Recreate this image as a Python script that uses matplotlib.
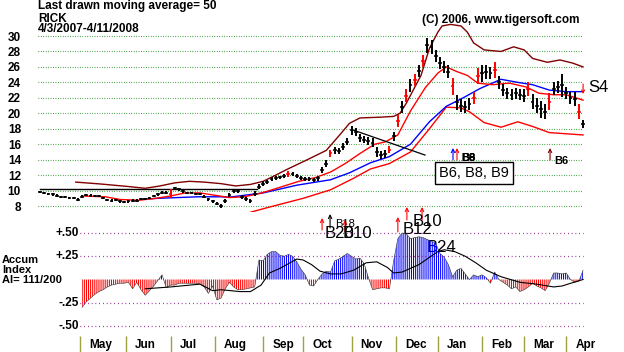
import matplotlib
matplotlib.use('Agg')
import matplotlib.pyplot as plt
from matplotlib.transforms import blended_transform_factory
import numpy as np

plt.rcParams['font.family'] = ['Liberation Sans', 'DejaVu Sans']
plt.rcParams['hatch.linewidth'] = 0.75

W, H = 624, 352

# price bars: one bar every 2 trading days, day 0 = 4/3/2007
days = list(range(0, 259, 2))
close = [9.8, 9.7, 9.6, 9.5, 9.35, 9.2, 9.2, 9.05, 9.0, 8.8,
         9.2, 9.4, 9.35, 9.3, 9.3, 9.0, 8.8, 8.7, 8.8, 8.6,
         8.55, 8.6, 8.7, 8.7, 8.9, 8.95, 9.0, 9.3, 9.55, 9.7,
         9.75, 9.6, 10.3, 10.2, 9.9, 9.7, 9.7, 9.6, 9.6, 9.2,
         8.9, 8.6, 8.3, 8.0, 8.6, 9.4, 10.0, 9.9, 9.2, 8.9,
         8.7, 9.6, 10.5, 10.9, 11.1, 11.5, 11.6, 11.7, 11.9, 12.2,
         12.1, 11.9, 11.6, 11.5, 11.5, 11.4, 11.6, 12.7, 13.5, 14.8,
         15.2, 15.1, 15.7, 16.3, 17.8, 17.6, 16.8, 16.6, 16.4, 16.2,
         15.0, 14.6, 14.7, 15.3, 17.0, 19.0, 20.8, 22.3, 23.6, 24.3,
         25.5, 26.8, 28.8, 28.6, 27.4, 26.5, 26.0, 25.4, 23.5, 21.4,
         21.0, 20.8, 21.2, 22.0, 24.8, 25.2, 25.3, 25.2, 25.6, 24.0,
         23.0, 22.6, 22.4, 22.6, 22.4, 22.3, 23.2, 21.5, 21.0, 20.5,
         20.2, 21.5, 23.2, 23.4, 23.6, 22.6, 22.0, 21.8, 20.2, 18.6]
bar_rng = [0.3, 0.3, 0.3, 0.3, 0.3, 0.3, 0.3, 0.3, 0.3, 0.4,
           0.4, 0.3, 0.3, 0.3, 0.3, 0.3, 0.3, 0.3, 0.3, 0.3,
           0.3, 0.3, 0.3, 0.3, 0.3, 0.3, 0.3, 0.3, 0.4, 0.4,
           0.3, 1.2, 0.4, 0.4, 0.3, 0.3, 0.3, 0.3, 0.3, 0.4,
           0.4, 0.4, 0.4, 0.5, 0.5, 0.5, 0.5, 0.4, 0.5, 0.5,
           0.5, 0.6, 0.6, 0.6, 0.5, 0.5, 0.5, 0.5, 0.5, 0.8,
           0.5, 0.5, 0.5, 0.5, 0.5, 0.5, 0.7, 0.8, 0.9, 1.0,
           0.9, 0.8, 0.8, 0.9, 1.1, 1.0, 1.0, 1.0, 1.0, 1.2,
           1.2, 1.0, 1.0, 1.0, 1.2, 1.5, 1.5, 1.6, 1.6, 1.6,
           1.6, 1.6, 2.0, 1.8, 1.6, 1.6, 1.6, 1.6, 2.2, 2.0,
           1.6, 1.6, 1.6, 1.6, 2.0, 2.2, 1.8, 1.6, 2.0, 1.6,
           1.6, 1.4, 1.4, 1.4, 1.4, 1.6, 1.8, 2.0, 2.0, 2.2,
           2.0, 2.2, 1.6, 1.6, 3.0, 1.6, 1.6, 1.8, 2.0, 1.0]
red_bars = [31, 59, 69, 83, 85, 87, 89, 91, 98, 103, 104, 108, 116, 121, 128]

# moving averages and bands (day, value)
ma21_day = [20, 31, 38, 47, 55, 62, 69, 76, 83, 90, 97, 104, 109, 116, 123, 131,
            138, 145, 152, 159, 164, 170, 176, 183, 189, 193, 198, 203, 208, 215,
            223, 231, 237, 244, 250, 258]
ma21_val = [9.3, 9.2, 8.85, 8.75, 9.0, 9.3, 9.7, 9.7, 9.4, 9.1, 9.2, 9.6, 10.0, 10.6,
            11.2, 11.7, 12.4, 13.5, 14.8, 16.0, 16.3, 17.2, 20.3, 23.3, 25.2, 26.0,
            25.4, 24.9, 23.9, 23.7, 23.9, 23.4, 22.6, 22.4, 22.4, 21.7]
ma50_day = [49, 56, 75, 86, 90, 106, 122, 138, 147, 157, 166, 176, 185, 193, 201,
            209, 219, 227, 234, 242, 250, 258]
ma50_val = [8.9, 9.0, 9.2, 9.2, 9.15, 9.7, 10.7, 11.4, 12.3, 13.6, 14.4, 16.0, 18.9,
            20.9, 22.0, 23.2, 24.4, 24.0, 23.7, 23.0, 22.8, 22.8]
upper_day = [17, 29, 43, 50, 57, 64, 71, 78, 86, 93, 100, 106, 112, 117, 127, 136,
             143, 147, 152, 162, 168, 171, 174, 181, 185, 189, 191, 195, 200, 203,
             206, 211, 219, 225, 230, 234, 241, 247, 253, 258]
upper_val = [11.1, 10.85, 10.5, 10.3, 10.6, 11.0, 11.2, 11.1, 10.9, 10.6, 10.8, 11.2,
             12.0, 12.7, 14.0, 15.2, 17.4, 18.7, 19.4, 19.5, 19.6, 20.0, 21.3, 24.9,
             28.4, 30.5, 31.3, 31.5, 31.3, 30.5, 29.1, 28.2, 28.0, 28.6, 28.2, 27.1,
             26.6, 26.9, 26.5, 26.0]
lower_day = [100, 108, 125, 138, 149, 157, 166, 176, 185, 193, 200, 204, 211, 219,
             227, 234, 242, 258]
lower_val = [7.2, 7.8, 9.0, 10.1, 11.6, 12.8, 13.5, 15.0, 18.0, 20.8, 20.7, 20.2,
             18.8, 18.2, 18.9, 18.3, 17.5, 17.2]

# accumulation index, every 2 trading days from 5/1/2007
ai_days = list(range(20, 259, 2))
ai = [-0.3, -0.24, -0.2, -0.16, -0.13, -0.11, -0.08, -0.06, -0.05, -0.04,
      -0.04, -0.03, -0.1, -0.03, -0.11, -0.17, -0.12, -0.07, -0.01, 0.05,
      -0.09, -0.06, -0.06, -0.04, -0.04, -0.04, -0.04, -0.04, -0.05, -0.08,
      -0.15, -0.07, -0.22, -0.2, -0.1, -0.03, -0.08, -0.11, -0.11, -0.1,
      -0.09, -0.08, 0.21, 0.2, 0.27, 0.3, 0.3, 0.26, 0.25, 0.27,
      0.25, 0.19, 0.11, 0.05, -0.06, -0.07, 0.0, 0.06, 0.09, 0.08,
      0.2, 0.22, 0.25, 0.28, 0.25, 0.22, 0.23, 0.17, 0.02, -0.11,
      -0.1, -0.09, -0.09, -0.1, 0.2, 0.44, 0.5, 0.49, 0.44, 0.45,
      0.46, 0.45, 0.43, 0.41, 0.39, 0.28, 0.24, 0.16, 0.03, 0.1,
      0.12, 0.06, 0.0, 0.05, 0.03, 0.05, 0.02, -0.04, 0.08, 0.0,
      -0.03, -0.06, -0.1, -0.08, -0.13, -0.11, -0.08, -0.04, -0.07, -0.09,
      -0.12, -0.04, 0.07, 0.07, 0.06, 0.07, 0.0, -0.03, -0.02, 0.1]
ai_ma_day = [50, 62, 76, 82, 86, 95, 100, 105, 109, 114, 122, 125, 129, 133, 138,
             143, 149, 155, 160, 165, 168, 172, 180, 189, 192, 197, 202, 207, 212,
             219, 228, 236, 244, 248, 255, 258]
ai_ma_val = [-0.1, -0.08, -0.05, -0.12, -0.11, -0.13, -0.13, -0.06, 0.07, 0.12, 0.22,
             0.21, 0.16, 0.09, 0.06, 0.06, 0.1, 0.18, 0.19, 0.13, 0.07, 0.08, 0.16,
             0.3, 0.32, 0.3, 0.25, 0.18, 0.1, 0.03, -0.03, -0.05, -0.08, -0.07,
             -0.02, 0.0]

months = ['May', 'Jun', 'Jul', 'Aug', 'Sep', 'Oct', 'Nov', 'Dec', 'Jan', 'Feb', 'Mar', 'Apr']
month_start = [19, 41, 62, 83, 106, 125, 148, 169, 189, 210, 230, 250]
price_ticks = [8, 10, 12, 14, 16, 18, 20, 22, 24, 26, 28, 30]
ai_ticks = [0.5, 0.25, -0.25, -0.5]
ai_tick_labels = ['+.50', '+.25', '-.25', '-.50']

# buy signals under the price panel
sig_day = [134, 137.8, 144.9, 170, 174.3, 181.5]
sig_color = ['red', 'black', 'red', 'red', 'red', 'red']
sig_top = [218, 214, 220, 217, 207, 207]
sig_bot = [230, 228, 232, 232, 220, 220]


fig = plt.figure(figsize=(W / 100, H / 100), dpi=100)


def px_axes(left, top, right, bottom):
    a = fig.add_axes([left / W, 1 - bottom / H, (right - left) / W, (bottom - top) / H])
    a.set_axis_off()
    return a


def fy(py):
    return 1 - py / H


xmin, xmax = (38 - 40) / 2.105, (590 - 40) / 2.105

# ---------- price panel
ax = px_axes(38, 20, 590, 212)
ax.set_xlim(xmin, xmax)
ax.set_ylim(30 - (212 - 36) / 7.73, 30 - (20 - 36) / 7.73)

ax.hlines(price_ticks, xmin, 258, colors='#008000', linestyles=(0, (0.6, 1.6)), lw=0.8)
ty = blended_transform_factory(fig.transFigure, ax.transData)
for v in price_ticks:
    ax.text(21 / W, v - 0.2, str(v), transform=ty, ha='right', va='center',
            fontsize=8.5, fontweight='bold')

ax.plot([0, 103], [10.2, 10.2], color='black', lw=1)
ax.plot(upper_day, upper_val, color='#800000', lw=1)
ax.plot(lower_day, lower_val, color='#ff0000', lw=1)
ax.plot(ma50_day, ma50_val, color='#0000ff', lw=1)
ax.plot(ma21_day, ma21_val, color='#ff0000', lw=1)
ax.plot([148.7, 182.9], [17.84, 14.6], color='black', lw=0.9)

c = np.array(close)
r = np.array(bar_rng)
d = np.array(days)
cols = ['#ff0000' if i in red_bars else 'black' for i in range(len(days))]
ax.vlines(d, c - r / 2, c + r / 2, colors=cols, lw=1.4)
ax.hlines(c, d - 0.9, d + 0.9, colors=cols, lw=1.1)

tx = blended_transform_factory(ax.transData, fig.transFigure)
for sd, sc, st, sb in zip(sig_day, sig_color, sig_top, sig_bot):
    ax.annotate('', xy=(sd, fy(st)), xycoords=tx, xytext=(sd, fy(sb)), textcoords=tx,
                arrowprops=dict(arrowstyle='->', color=sc, lw=0.8, shrinkA=0, shrinkB=0,
                                mutation_scale=6), annotation_clip=False)
ax.text(140, fy(224), 'B18', transform=tx, fontsize=8, va='center')
ax.text(135.4, fy(233), 'B20', transform=tx, fontsize=12, va='center')
ax.text(144, fy(233), 'B10', transform=tx, fontsize=12, va='center')
ax.text(172.4, fy(230), 'B12', transform=tx, fontsize=12, va='center')
ax.text(177, fy(221), 'B10', transform=tx, fontsize=12, va='center')
ax.text(183.8, fy(248), 'B24', transform=tx, fontsize=12, va='center')

# signals inside the price panel
for sd, sc in [(196.2, '#0000ff'), (198.1, '#ff0000'), (242.3, '#800000')]:
    ax.annotate('', xy=(sd, fy(148)), xycoords=tx, xytext=(sd, fy(160)), textcoords=tx,
                arrowprops=dict(arrowstyle='->', color=sc, lw=0.8, shrinkA=0, shrinkB=0,
                                mutation_scale=6), annotation_clip=False)
for lab in ['B6', 'B8', 'B9']:
    ax.text(200, fy(158), lab, transform=tx, fontsize=8, fontweight='bold', va='center')
ax.text(244.5, fy(161), 'B6', transform=tx, fontsize=8, fontweight='bold', va='center')
ax.text(206.2, fy(173), 'B6, B8, B9', transform=tx, fontsize=10.5, ha='center', va='center',
        bbox=dict(boxstyle='square,pad=0.25', fc='white', ec='black', lw=1))
ax.annotate('', xy=(258, fy(94)), xycoords=tx, xytext=(258, fy(84)), textcoords=tx,
            arrowprops=dict(arrowstyle='->', color='#ff0000', lw=0.8, shrinkA=0, shrinkB=0,
                            mutation_scale=5), annotation_clip=False)
ax.text(260.3, fy(87), 'S4', transform=tx, fontsize=12, va='center')

fig.text(38 / W, fy(9.5), 'Last drawn moving average= 50', fontsize=8.5, fontweight='bold')
fig.text(38 / W, fy(22.5), 'RICK', fontsize=8.5, fontweight='bold')
fig.text(38 / W, fy(32.5), '4/3/2007-4/11/2008', fontsize=8.5, fontweight='bold')
fig.text(422 / W, fy(23.5), '(C) 2006, www.tigersoft.com', fontsize=8.5, fontweight='bold')

# ---------- accumulation index panel
ax2 = px_axes(38, 222, 590, 336)
ax2.set_xlim(xmin, xmax)
ax2.set_ylim(-(336 - 279.5) / 93, (279.5 - 222) / 93)
a = np.array(ai)
ad = np.array(ai_days)
ax2.fill_between(ad, a, 0, where=a >= 0, interpolate=True, facecolor='none',
                 edgecolor='#0000ff', hatch='|' * 8, lw=0)
ax2.fill_between(ad, a, 0, where=a <= 0, interpolate=True, facecolor='none',
                 edgecolor='#ff0000', hatch='|' * 8, lw=0)
ax2.plot(ad, a, color='#303030', lw=0.4)
ax2.plot(ai_ma_day, ai_ma_val, color='black', lw=0.8)
ax2.hlines(ai_ticks, 19, 258, colors='#800080', linestyles=(0, (0.6, 2.4)), lw=0.9)
for v, lab in zip(ai_ticks, ai_tick_labels):
    ax2.text(18.5, v, lab, ha='right', va='center', fontsize=8.5, fontweight='bold')
fig.text(2 / W, fy(263), 'Accum', fontsize=8, fontweight='bold')
fig.text(2 / W, fy(273), 'Index', fontsize=8, fontweight='bold')
fig.text(2 / W, fy(283), 'AI= 111/200', fontsize=8, fontweight='bold')

# ---------- month strip
ax3 = px_axes(38, 336, 590, 352)
ax3.set_xlim(xmin, xmax)
ax3.set_ylim(0, 1)
ax3.vlines(month_start, 0, 1, colors='#a0a040', lw=1)
for m, s in zip(months, month_start):
    ax3.text(s + 4.3, 0.45, m, ha='left', va='center', fontsize=8.5, fontweight='bold')

fig.savefig('out.png', dpi=100)
